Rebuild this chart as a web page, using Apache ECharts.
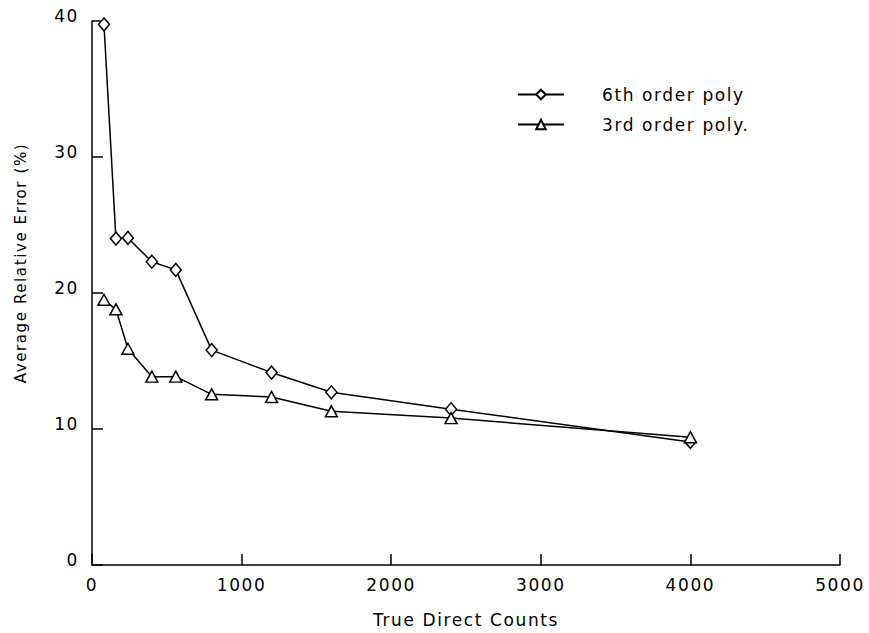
<!DOCTYPE html>
<html>
<head>
<meta charset="utf-8">
<script src="https://cdn.jsdelivr.net/npm/echarts@6/dist/echarts.min.js"></script>
<style>
  html, body { margin: 0; padding: 0; background: #fff; }
  #chart { width: 869px; height: 633px; }
  /* the plotter lettering is spaced out */
  #chart svg text { letter-spacing: 1.6px; }
</style>
</head>
<body>
<div id="chart"></div>
<script>
// true direct counts (x) shared by both series
const counts = [80, 160, 240, 400, 560, 800, 1200, 1600, 2400, 4000]
// average relative error (%)
const sixthOrder = [39.75, 24.0, 24.05, 22.3, 21.7, 15.8, 14.15, 12.7, 11.45, 9.05]
const thirdOrder = [19.5, 18.8, 15.9, 13.85, 13.85, 12.55, 12.35, 11.3, 10.8, 9.4]
const seriesNames = ['6th order poly', '3rd order poly.']

const font = 'DejaVu Sans'
const pairs = ys => counts.map((x, i) => [x, ys[i]])

const chart = echarts.init(document.getElementById('chart'), null, { renderer: 'svg' })
chart.setOption({
  backgroundColor: '#fff',
  animation: false,
  textStyle: { fontFamily: font, color: '#000' },
  grid: { left: 92, right: 29, top: 21, bottom: 68 },
  legend: {
    orient: 'vertical',
    left: 517,
    top: 86,
    padding: 0,
    itemWidth: 46,
    itemHeight: 12,
    itemGap: 13,
    data: seriesNames,
    textStyle: { fontFamily: font, fontSize: 17, color: '#000', padding: [0, 0, 0, 33] }
  },
  xAxis: {
    type: 'value',
    min: 0,
    max: 5000,
    interval: 1000,
    name: 'True Direct Counts',
    nameLocation: 'middle',
    nameGap: 46,
    nameTextStyle: { fontFamily: font, fontSize: 17, color: '#000' },
    axisLine: { lineStyle: { color: '#000', width: 1.5 } },
    axisTick: { inside: true, length: 11, lineStyle: { color: '#000', width: 1.5 } },
    axisLabel: { fontFamily: font, fontSize: 17, color: '#000', margin: 11, formatter: v => String(v) },
    splitLine: { show: false }
  },
  yAxis: {
    type: 'value',
    min: 0,
    max: 40,
    interval: 10,
    name: 'Average Relative Error (%)',
    nameLocation: 'middle',
    nameGap: 64,
    nameTextStyle: { fontFamily: font, fontSize: 15, color: '#000', padding: [0, 0, 0, 60] },
    axisLine: { show: true, lineStyle: { color: '#000', width: 1.5 } },
    axisTick: { show: true, inside: true, length: 11, lineStyle: { color: '#000', width: 1.5 } },
    axisLabel: {
      fontFamily: font, fontSize: 17, color: '#000', margin: 13,
      verticalAlign: 'bottom', lineHeight: 10
    },
    splitLine: { show: false }
  },
  series: [
    {
      name: seriesNames[0],
      type: 'line',
      data: pairs(sixthOrder),
      symbol: 'diamond',
      symbolSize: [11, 13],
      lineStyle: { color: '#000', width: 1.5 },
      itemStyle: { color: '#fff', borderColor: '#000', borderWidth: 1.5 }
    },
    {
      name: seriesNames[1],
      type: 'line',
      data: pairs(thirdOrder),
      symbol: 'triangle',
      symbolSize: [12, 11],
      lineStyle: { color: '#000', width: 1.5 },
      itemStyle: { color: '#fff', borderColor: '#000', borderWidth: 1.5 }
    }
  ]
})
</script>
</body>
</html>
